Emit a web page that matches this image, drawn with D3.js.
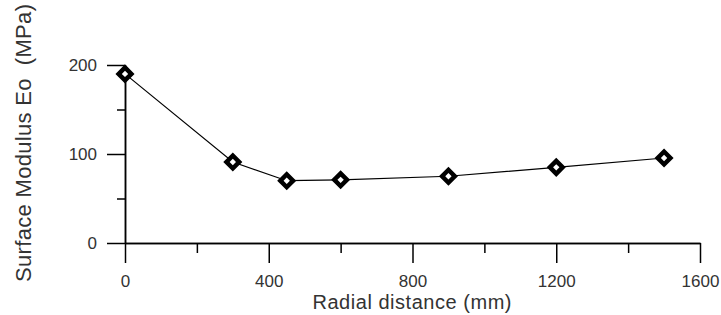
<!DOCTYPE html>
<meta charset="utf-8">
<style>
body { margin: 0; background: #fff; }
.axis path, .axis line { stroke: #000; stroke-width: 1.5px; }
.axis text { font-family: "Liberation Sans", Arial, sans-serif; font-size: 17px; fill: #333; }
.title { font-family: "Liberation Sans", Arial, sans-serif; fill: #333; white-space: pre; }
.line { fill: none; stroke: #000; stroke-width: 1.2px; }
.dot { fill: #fff; stroke: #000; stroke-width: 4.5px; }
</style>
<body>
<script src="https://d3js.org/d3.v7.min.js"></script>
<script>
// radial distance (mm) and surface modulus (MPa)
var distance = [0, 300, 450, 600, 900, 1200, 1500];
var modulus = [190, 91, 70, 71, 75, 85, 95.5];
var xMajor = [0, 400, 800, 1200, 1600],
    xMinor = [200, 600, 1000, 1400];
var yMajor = [0, 100, 200],
    yMinor = [50, 150];

var w = 721, h = 315;
var svg = d3.select("body").append("svg").attr("width", w).attr("height", h);

var x = d3.scaleLinear().domain([0, 1600]).range([125, 700]),
    y = d3.scaleLinear().domain([0, 200]).range([243, 65]);

// minor ticks first, no labels
svg.append("g")
    .attr("class", "axis")
    .attr("transform", "translate(0," + y(0) + ")")
    .call(d3.axisBottom(x).tickValues(xMinor).tickSize(10).tickSizeOuter(0).tickFormat(""));

svg.append("g")
    .attr("class", "axis")
    .attr("transform", "translate(" + x(0) + ",0)")
    .call(d3.axisLeft(y).tickValues(yMinor).tickSize(8).tickSizeOuter(0).tickFormat(""));

svg.append("g")
    .attr("class", "axis")
    .attr("transform", "translate(0," + y(0) + ")")
    .call(d3.axisBottom(x).tickValues(xMajor).tickSize(20).tickSizeOuter(0).tickPadding(12).tickFormat(d3.format("d")));

svg.append("g")
    .attr("class", "axis")
    .attr("transform", "translate(" + x(0) + ",0)")
    .call(d3.axisLeft(y).tickValues(yMajor).tickSize(18).tickSizeOuter(0).tickPadding(10).tickFormat(d3.format("d")));

svg.selectAll(".axis .domain").attr("stroke-width", 1.5);

var line = d3.line()
    .x(function(d, i) { return x(distance[i]); })
    .y(function(d) { return y(d); });

svg.append("path")
    .datum(modulus)
    .attr("class", "line")
    .attr("d", line);

svg.selectAll(".dot")
    .data(modulus)
    .enter().append("path")
    .attr("class", "dot")
    .attr("d", d3.symbol().type(d3.symbolSquare).size(81))
    .attr("transform", function(d, i) { return "translate(" + x(distance[i]) + "," + y(d) + ") rotate(45)"; });

svg.append("text")
    .attr("class", "title")
    .attr("x", 412)
    .attr("y", 309)
    .attr("text-anchor", "middle")
    .attr("font-size", 20)
    .attr("textLength", 199)
    .attr("lengthAdjust", "spacing")
    .text("Radial distance (mm)");

svg.append("text")
    .attr("class", "title")
    .attr("transform", "translate(31,143) rotate(-90)")
    .attr("text-anchor", "middle")
    .attr("font-size", 22)
    .attr("textLength", 278)
    .attr("lengthAdjust", "spacing")
    .text("Surface Modulus Eo  (MPa)");
</script>
</body>
